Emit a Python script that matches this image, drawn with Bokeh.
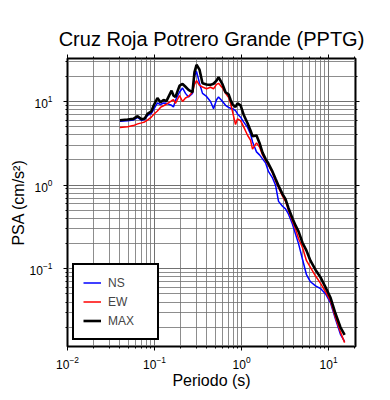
from bokeh.plotting import figure
from bokeh.models import LogAxis, Range1d, Legend, LegendItem, ColumnDataSource, CustomJSTickFormatter
from bokeh.embed import file_html
from bokeh.resources import INLINE

periods = [0.040, 0.049, 0.057, 0.064, 0.071, 0.077, 0.083, 0.092, 0.0975, 0.108,
           0.117, 0.127, 0.137, 0.157, 0.165, 0.174, 0.194, 0.210, 0.227, 0.246,
           0.273, 0.288, 0.304, 0.329, 0.356, 0.396, 0.440, 0.477, 0.516, 0.544,
           0.605, 0.655, 0.709, 0.748, 0.789, 0.853, 0.899, 0.975, 1.055, 1.172,
           1.268, 1.337, 1.486, 1.609, 1.742, 1.887, 2.043, 2.270, 2.458, 2.662,
           2.957, 3.202, 3.467, 3.852, 4.171, 4.517, 5.018, 5.575, 6.193, 7.092,
           8.09, 9.24, 10.55, 12.03, 13.7, 15.3]

psa_ns = [5.8, 5.9, 6.0, 6.45, 5.95, 6.1, 6.8, 7.2, 8.0, 9.6,
          9.2, 9.6, 9.5, 9.0, 8.6, 10.3, 13.0, 14.5, 12.5, 11.3,
          12.5, 20.0, 22.9, 16.5, 12.5, 11.5, 10.0, 8.2, 10.5, 11.3,
          10.0, 9.0, 8.5, 8.3, 8.2, 7.8, 7.1, 6.5, 5.7, 4.9,
          4.1, 3.3, 2.5, 2.3, 2.06, 1.85, 1.45, 1.22, 1.0, 0.64,
          0.56, 0.52, 0.45, 0.34, 0.26, 0.20, 0.13, 0.085, 0.070, 0.0625,
          0.058, 0.050, 0.039, 0.025, 0.0165, 0.0135]

psa_ew = [4.9, 5.0, 5.15, 5.4, 5.55, 5.7, 6.0, 6.5, 7.0, 7.7,
          8.5, 8.9, 9.3, 10.2, 10.5, 9.5, 11.8, 10.0, 11.0, 11.5,
          13.0, 16.0, 17.8, 15.6, 14.9, 14.2, 14.8, 14.2, 16.0, 16.5,
          14.5, 12.5, 11.2, 9.5, 7.5, 5.3, 6.2, 5.9, 5.0, 3.95,
          3.45, 2.7, 3.2, 2.85, 2.3, 1.98, 1.72, 1.4, 1.12, 0.93,
          0.74, 0.64, 0.50, 0.37, 0.30, 0.23, 0.18, 0.125, 0.104, 0.082,
          0.067, 0.053, 0.041, 0.026, 0.0175, 0.0131]

psa_max = [5.97, 6.08, 6.2, 6.67, 6.14, 6.25, 7.1, 7.6, 8.9, 11.0,
           9.8, 10.4, 10.1, 13.5, 11.8, 11.3, 15.5, 16.2, 15.0, 13.8,
           12.9, 22.4, 27.5, 24.0, 16.5, 16.0, 15.8, 16.3, 17.8, 19.5,
           16.0, 12.9, 12.2, 10.5, 9.2, 8.6, 9.5, 9.0, 7.0, 5.5,
           4.5, 3.85, 3.92, 3.2, 2.45, 2.06, 1.8, 1.45, 1.19, 0.98,
           0.78, 0.68, 0.53, 0.40, 0.33, 0.28, 0.205, 0.165, 0.125, 0.097,
           0.079, 0.060, 0.045, 0.029, 0.020, 0.0162]

series_names = ["NS", "EW", "MAX"]
series_colors = ["#0000ff", "#ff0000", "#000000"]
series_widths = [1.5, 1.5, 2.6]

FONT = "Liberation Sans"

src = ColumnDataSource(dict(T=periods, NS=psa_ns, EW=psa_ew, MAX=psa_max))

p = figure(frame_width=288, frame_height=288, x_axis_type="log", y_axis_type="log",
           x_range=Range1d(0.01, 20.4), y_range=Range1d(0.01178, 32.66),
           output_backend="svg", toolbar_location=None,
           min_border_left=67, min_border_right=35, min_border_top=58,
           min_border_bottom=54, title="Cruz Roja Potrero Grande (PPTG)")

p.title.align = "center"
p.title.text_font = FONT
p.title.text_font_style = "normal"
p.title.text_font_size = "20px"
p.title.text_color = "black"

p.outline_line_color = "black"
p.outline_line_width = 2
p.outline_line_alpha = 1

for g in (p.xgrid, p.ygrid):
    g.grid_line_color = "#707070"
    g.grid_line_width = 0.8
    g.minor_grid_line_color = "#707070"
    g.minor_grid_line_width = 0.8

def style_axis(ax):
    ax.axis_line_color = None
    ax.major_tick_line_color = "black"
    ax.minor_tick_line_color = "black"
    ax.major_tick_line_width = 1
    ax.minor_tick_line_width = 1
    ax.major_tick_out = 4
    ax.major_tick_in = 0
    ax.minor_tick_out = 2
    ax.minor_tick_in = 0
    ax.major_label_text_font = FONT
    ax.major_label_text_font_size = "12px"
    ax.major_label_text_color = "black"
    ax.axis_label_text_font = FONT
    ax.axis_label_text_font_size = "16px"
    ax.axis_label_text_font_style = "normal"
    ax.axis_label_text_color = "black"

p.xaxis.axis_label = "Periodo (s)"
p.yaxis.axis_label = "PSA (cm/s²)"
style_axis(p.xaxis[0])
style_axis(p.yaxis[0])
p.xaxis.major_label_standoff = 5
p.yaxis.major_label_standoff = 11
p.xaxis.axis_label_standoff = 0
p.yaxis.axis_label_standoff = 0

top = LogAxis(formatter=CustomJSTickFormatter(code="return ''"))
right = LogAxis(formatter=CustomJSTickFormatter(code="return ''"))
style_axis(top)
style_axis(right)
top.major_label_standoff = 8
right.major_label_standoff = 0
p.add_layout(top, "above")
p.add_layout(right, "right")

renderers = []
for name, col, w in zip(series_names, series_colors, series_widths):
    r = p.line("T", name, source=src, line_color=col, line_width=w)
    renderers.append(r)

legend = Legend(items=[LegendItem(label=n, renderers=[r]) for n, r in zip(series_names, renderers)],
                location=(5, 6))
legend.border_line_color = "black"
legend.border_line_alpha = 1
legend.border_line_width = 2
legend.background_fill_color = "white"
legend.background_fill_alpha = 1
legend.label_text_font = FONT
legend.label_text_font_size = "12px"
legend.padding = 9
legend.spacing = 2
legend.glyph_width = 18
legend.glyph_height = 17
legend.label_height = 17
legend.label_width = 40
legend.label_standoff = 7
legend.margin = 0
p.add_layout(legend)

open("out.html", "w").write(file_html(p, INLINE))
